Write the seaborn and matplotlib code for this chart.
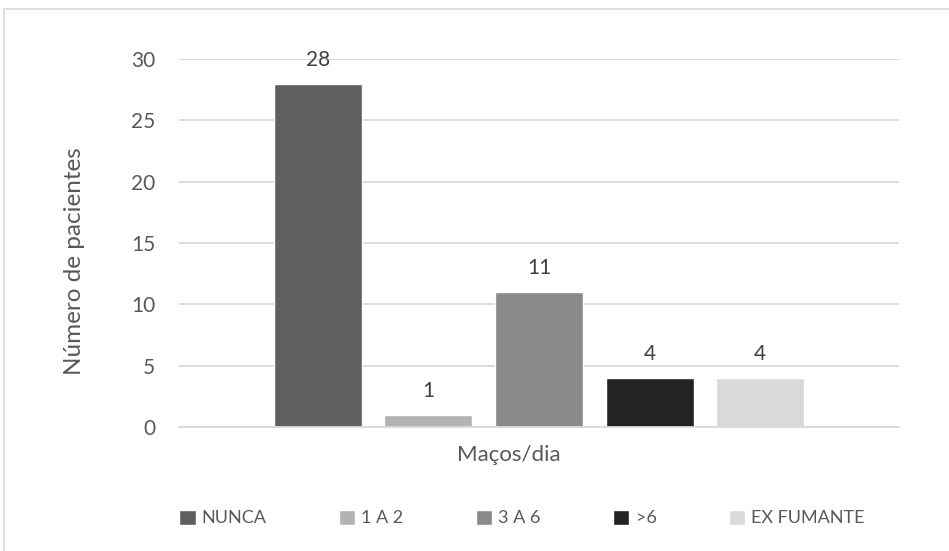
import matplotlib
matplotlib.use("Agg")
import matplotlib.pyplot as plt
import matplotlib.transforms as mtransforms
from matplotlib.patches import Rectangle
import pandas as pd
import seaborn as sns

# Data
grupo = ["Maços/dia"]
categorias = ["NUNCA", "1 A 2", "3 A 6", ">6", "EX FUMANTE"]
pacientes = [28, 1, 11, 4, 4]
cores = ["#5f5f5f", "#b3b3b3", "#8a8a8a", "#232323", "#d9d9d9"]

df = pd.DataFrame({
    "grupo": grupo * len(categorias),
    "categoria": categorias,
    "pacientes": pacientes,
})

sns.set_theme(style="white")
plt.rcParams["font.family"] = ["Lato", "DejaVu Sans"]
texto = "#595959"
grade = "#d9d9d9"

fig = plt.figure(figsize=(9.49, 5.51), dpi=100)
ax = fig.add_axes([179 / 949, 1 - 427 / 551, 720 / 949, 368 / 551])

# Chart-area border
fig.patches.append(Rectangle((4 / 949, -0.1), 1.2, 1 - 9 / 551 + 0.1,
                             transform=fig.transFigure, fill=False,
                             edgecolor=grade, linewidth=1.2))

sns.barplot(data=df, x="grupo", y="pacientes", hue="categoria",
            hue_order=categorias, palette=cores, width=0.768, gap=0.205,
            saturation=1, ax=ax, legend=True)

for cont in ax.containers:
    ax.bar_label(cont, padding=10, fontsize=15, color="#404040")

ax.set_ylim(0, 30)
ax.set_yticks(range(0, 31, 5))
ax.set_xlim(-0.5, 0.5)
ax.yaxis.grid(True, color=grade, linewidth=1.3)
ax.set_axisbelow(True)
for s in ["top", "right", "left"]:
    ax.spines[s].set_visible(False)
ax.spines["bottom"].set_color(grade)
ax.spines["bottom"].set_linewidth(1.3)
ax.tick_params(axis="y", length=0, pad=17, labelsize=15, labelcolor=texto)
ax.tick_params(axis="x", length=0, pad=13, labelsize=16, labelcolor=texto)
for lbl in ax.get_xticklabels():
    lbl.set_transform(lbl.get_transform() +
                      mtransforms.ScaledTranslation(-30 / 100, 0, fig.dpi_scale_trans))
ax.set_xlabel("")
ax.set_ylabel("Número de pacientes", fontsize=17.5, color=texto)
ax.yaxis.set_label_coords(-0.13, 0.45)

h, l = ax.get_legend_handles_labels()
ax.legend_.remove()
fig.legend(h, l, loc="center", bbox_to_anchor=(522 / 949, 1 - 518 / 551),
           ncol=5, frameon=False, fontsize=13, labelcolor=texto,
           handlelength=0.9, handleheight=0.9, handletextpad=0.35,
           columnspacing=4.0, borderpad=0)

fig.savefig("out.png", dpi=100)
